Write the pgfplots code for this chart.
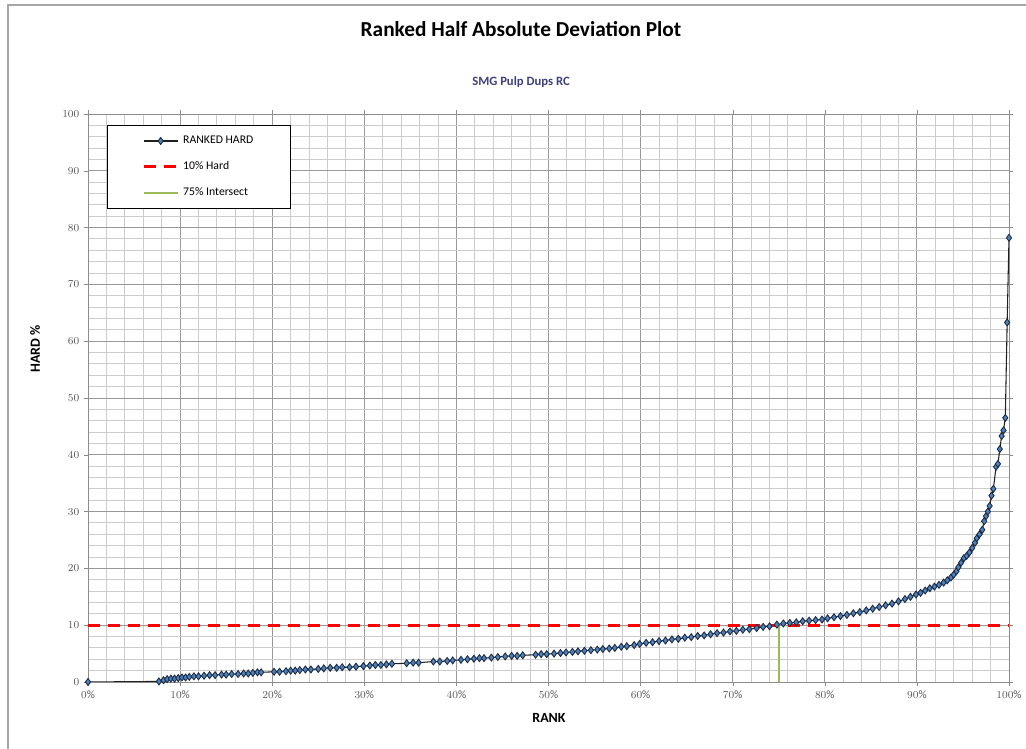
\documentclass[border=0pt]{standalone}
\usepackage{pgfplots}
\pgfplotsset{compat=1.18}
\usepackage{fontspec}
\setmainfont{Carlito}
\definecolor{mkfill}{HTML}{4F81BD}
\definecolor{mkdraw}{HTML}{1A2A40}
\definecolor{curve}{HTML}{202020}
\definecolor{subt}{HTML}{404080}
\definecolor{grn}{HTML}{9BBB59}
\definecolor{bord}{HTML}{A6A6A6}
\begin{document}
\begin{tikzpicture}
\useasboundingbox (0,0) rectangle (769.5pt,561.75pt);
\fill[white] (0,0) rectangle (769.5pt,561.75pt);
\draw[bord, line width=1.5pt] (6pt,0) -- (6pt,558pt) -- (769.5pt,558pt);
\begin{axis}[
  at={(66pt,50.25pt)}, anchor=south west,
  scale only axis, width=690.75pt, height=426pt,
  xmin=0, xmax=100, ymin=0, ymax=100,
  xtick={0,10,...,100}, ytick={0,10,...,100},
  minor x tick num=4, minor y tick num=4,
  grid=both,
  major grid style={color=black!40, line width=0.7pt},
  minor grid style={color=black!20, line width=0.7pt},
  axis line style={color=black!45, line width=0.7pt},
  tick align=outside, major tick length=3pt, minor tick length=0pt,
  tick style={color=black!45},
  xticklabel={\pgfmathprintnumber{\tick}\%},
  ticklabel style={font=\fontsize{8.5}{9}\selectfont, color=black!65},
  legend style={at={(0.0206,0.9806)}, anchor=north west, draw=black, line width=0.8pt,
    font=\fontsize{8.8}{10}\selectfont, row sep=8pt, inner xsep=26pt, inner ysep=6pt,
    /tikz/every odd column/.append style={column sep=1pt}},
  legend cell align=left,
  legend image code/.code={\draw[mark repeat=2,mark phase=2,#1] plot coordinates {(0cm,0cm) (0.45cm,0cm) (0.9cm,0cm)};},
]
\addplot[curve, line width=0.8pt, mark=diamond*, mark size=2.6pt,
  mark options={fill=mkfill, draw=mkdraw, line width=0.65pt, solid}] coordinates {
(0,0) (7.7,0.1) (8.2,0.3) (8.6,0.5) (9.0,0.6) (9.4,0.6) (9.8,0.7) (10.2,0.8) (10.6,0.8)
(11.0,0.9) (11.5,1.0) (12.0,1.0) (12.6,1.1) (13.2,1.2) (13.8,1.2) (14.5,1.3) (15.0,1.3)
(15.6,1.4) (16.3,1.4) (16.9,1.5) (17.4,1.5) (17.9,1.6) (18.4,1.7) (18.8,1.7) (20.2,1.8)
(20.8,1.8) (21.5,1.9) (22.0,2.0) (22.5,2.0) (23.0,2.1) (23.6,2.2) (24.2,2.2) (25.0,2.3)
(25.6,2.4) (26.3,2.5) (27.0,2.5) (27.6,2.6) (28.4,2.6) (29.1,2.7) (29.9,2.8) (30.6,2.9)
(31.2,3.0) (31.8,3.0) (32.4,3.1) (33.0,3.2) (34.6,3.3) (35.3,3.4) (35.9,3.4) (37.5,3.6)
(38.2,3.6) (39.0,3.7) (39.6,3.8) (40.5,3.9) (41.2,4.0) (41.9,4.1) (42.5,4.2) (43.0,4.2)
(43.8,4.3) (44.5,4.4) (45.3,4.5) (46.0,4.6) (46.6,4.6) (47.2,4.7) (48.6,4.8) (49.2,4.9)
(49.8,4.9) (50.6,5.0) (51.3,5.1) (51.9,5.2) (52.6,5.3) (53.2,5.4) (53.9,5.5) (54.6,5.6)
(55.3,5.7) (55.9,5.8) (56.6,5.9) (57.2,6.0) (57.9,6.2) (58.5,6.3) (59.3,6.5) (59.9,6.7)
(60.6,6.9) (61.3,7.0) (62.0,7.2) (62.7,7.3) (63.4,7.5) (64.1,7.6) (64.8,7.8) (65.5,7.9)
(66.2,8.1) (66.9,8.2) (67.6,8.4) (68.3,8.6) (69.0,8.7) (69.7,8.9) (70.4,9.0) (71.1,9.2)
(71.8,9.3) (72.6,9.5) (73.3,9.7) (74.0,9.8) (74.8,10.1) (75.5,10.3) (76.2,10.4) (76.9,10.5)
(77.6,10.7) (78.3,10.8) (79.0,10.9) (79.7,11.0) (80.3,11.2) (81.0,11.4) (81.7,11.6) (82.4,11.8)
(83.1,12.1) (83.8,12.3) (84.5,12.6) (85.2,12.9) (85.9,13.2) (86.6,13.5) (87.3,13.8) (88.0,14.2)
(88.7,14.6) (89.3,15.0) (89.9,15.4) (90.4,15.7) (90.9,16.1) (91.4,16.5) (91.9,16.8) (92.4,17.1)
(92.9,17.5) (93.3,17.9) (93.7,18.4) (94.0,18.9) (94.3,19.5) (94.5,20.2) (94.8,21.0) (95.1,21.8)
(95.4,22.2) (95.7,22.8) (96.0,23.6) (96.3,24.5) (96.5,25.3) (96.8,26.0) (97.1,26.8) (97.3,28.3)
(97.5,29.2) (97.7,30.0) (97.9,31.0) (98.1,32.8) (98.3,34.0) (98.6,37.9) (98.8,38.4) (99.0,41.0)
(99.2,43.3) (99.4,44.3) (99.6,46.5) (99.8,63.3) (100,78.2)
};
\addlegendentry{RANKED HARD}
\addplot[red, line width=2.2pt, dash pattern=on 9pt off 6pt] coordinates {(0,10) (100,10)};
\addlegendentry{10\% Hard}
\addplot[grn, line width=1.8pt] coordinates {(75,0) (75,10.2)};
\addlegendentry{75\% Intersect}
\end{axis}
\node[font=\fontsize{16}{18}\selectfont\bfseries] at (390.75pt,540pt) {Ranked Half Absolute Deviation Plot};
\node[font=\fontsize{9.5}{11}\selectfont\bfseries, color=subt] at (390.75pt,500.25pt) {SMG Pulp Dups RC};
\node[font=\fontsize{10.5}{12}\selectfont\bfseries, rotate=90] at (26.25pt,300pt) {HARD \%};
\node[font=\fontsize{10.5}{12}\selectfont\bfseries] at (411.75pt,23.5pt) {RANK};
\end{tikzpicture}
\end{document}
